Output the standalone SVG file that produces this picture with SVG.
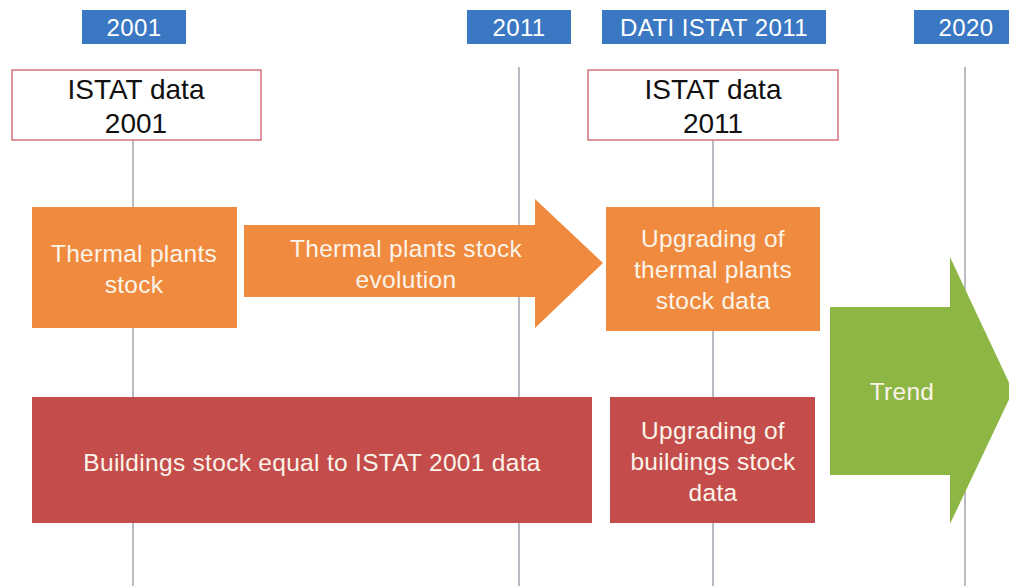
<svg xmlns="http://www.w3.org/2000/svg" width="1009" height="586" viewBox="0 0 1009 586">
<style>
.tag{fill:#3B78C3}
.tagt{fill:#fff;font-family:"Liberation Sans",Arial,sans-serif;font-size:24px;letter-spacing:0.4px;text-anchor:middle}
.lbl{fill:#fff;stroke:#D7737B;stroke-width:1.5}
.lblt{fill:#111;font-family:"Liberation Sans",Arial,sans-serif;font-size:28px;text-anchor:middle}
.or{fill:#F08A3E}
.rd{fill:#C44D4B}
.gr{fill:#8DB645}
.wt{fill:#FBF4EA;font-family:"Liberation Sans",Arial,sans-serif;font-size:24.5px;letter-spacing:0.3px;text-anchor:middle}
.vl{stroke:#8A8F9A;stroke-width:1.2;fill:none}
</style>
<rect width="1009" height="586" fill="#fff"/>
<g id="timelines">
<line class="vl" x1="133" y1="140" x2="133" y2="586"/>
<line class="vl" x1="519" y1="67" x2="519" y2="586"/>
<line class="vl" x1="713" y1="140" x2="713" y2="586" stroke="#9EA2C6"/>
<line class="vl" x1="965" y1="67" x2="965" y2="586" stroke="#A3A6D0"/>
</g>
<g id="tag2001"><rect class="tag" x="82" y="10" width="104" height="34"/><text class="tagt" x="134" y="36">2001</text></g>
<g id="tag2011"><rect class="tag" x="467" y="10" width="104" height="34"/><text class="tagt" x="519" y="36">2011</text></g>
<g id="tagDati"><rect class="tag" x="602" y="10" width="224" height="34"/><text class="tagt" x="714" y="36">DATI ISTAT 2011</text></g>
<g id="tag2020"><rect class="tag" x="914" y="10" width="100" height="34"/><text class="tagt" x="966" y="36">2020</text></g>
<g id="istat2001"><rect class="lbl" x="12" y="70" width="249" height="70"/><text class="lblt" x="136" y="99">ISTAT data</text><text class="lblt" x="136" y="133">2001</text></g>
<g id="istat2011"><rect class="lbl" x="588" y="70" width="250" height="70"/><text class="lblt" x="713" y="99">ISTAT data</text><text class="lblt" x="713" y="133">2011</text></g>
<g id="thermal"><rect class="or" x="32" y="207" width="205" height="121"/><text class="wt" x="134" y="262">Thermal plants</text><text class="wt" x="134" y="293">stock</text></g>
<g id="evolution"><path class="or" d="M244,225 H535 V199 L603,263 L535,328 V297 H244 Z"/><text class="wt" x="406" y="257">Thermal plants stock</text><text class="wt" x="406" y="288">evolution</text></g>
<g id="upgThermal"><rect class="or" x="606" y="207" width="214" height="124"/><text class="wt" x="713" y="247">Upgrading of</text><text class="wt" x="713" y="278">thermal plants</text><text class="wt" x="713" y="309">stock data</text></g>
<g id="buildings"><rect class="rd" x="32" y="397" width="560" height="126"/><text class="wt" x="312" y="471">Buildings stock equal to ISTAT 2001 data</text></g>
<g id="upgBuildings"><rect class="rd" x="610" y="397" width="205" height="126"/><text class="wt" x="713" y="439">Upgrading of</text><text class="wt" x="713" y="470">buildings stock</text><text class="wt" x="713" y="501">data</text></g>
<g id="trend"><path class="gr" d="M830,307 H950 V257 L1013,391 L950,524 V475 H830 Z"/><text class="wt" x="902" y="400">Trend</text></g>
</svg>
